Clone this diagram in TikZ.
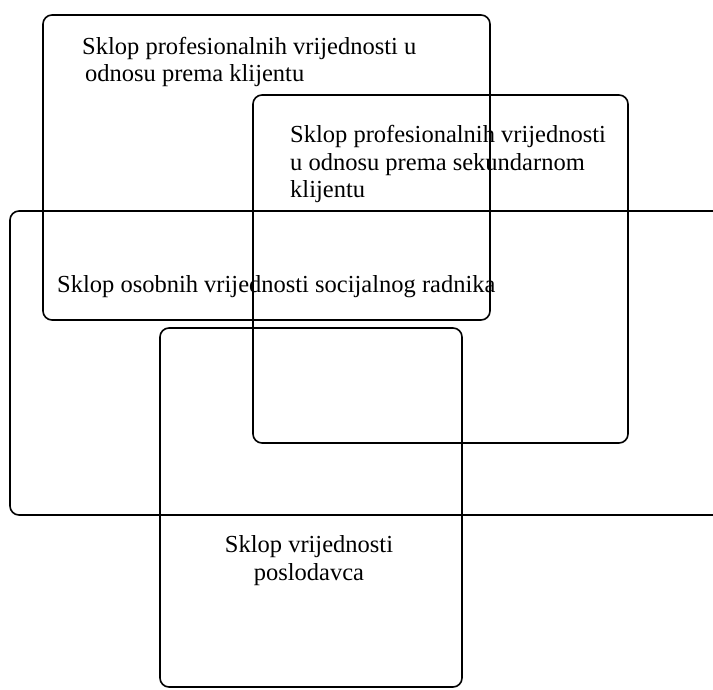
\documentclass[tikz,border=0pt]{standalone}
\usepackage{fontspec}
\setmainfont{Liberation Serif}
\begin{document}
\begin{tikzpicture}[x=1pt,y=-1pt,
  setbox/.style={draw=black,line width=1.6pt,rounded corners=9pt},
  lbl/.style={inner sep=0pt,font=\fontsize{24.5}{27.5}\selectfont,text=black}]
\useasboundingbox (0,0) rectangle (713,690);
\begin{scope}
\clip (0,0) rectangle (713,690);
% sets
\draw[setbox] (43,15) rectangle (490,320);
\draw[setbox] (253,95) rectangle (628,443);
\draw[setbox] (10,211) rectangle (760,515);
\draw[setbox] (160,328) rectangle (462,687);
\end{scope}
% labels (base anchor = baseline of last line)
\node[lbl,anchor=base west,align=left] (t1) at (82,82)
  {Sklop profesionalnih vrijednosti u\\\hspace*{3pt}odnosu prema klijentu};
\node[lbl,anchor=base west,align=left] (t2) at (290,198)
  {Sklop profesionalnih vrijednosti\\u odnosu prema sekundarnom\\klijentu};
\node[lbl,anchor=base west] (t3) at (57,292)
  {Sklop osobnih vrijednosti socijalnog radnika};
\node[lbl,anchor=base,align=center] (t4) at (309,580)
  {Sklop vrijednosti\\poslodavca};
\end{tikzpicture}
\end{document}
